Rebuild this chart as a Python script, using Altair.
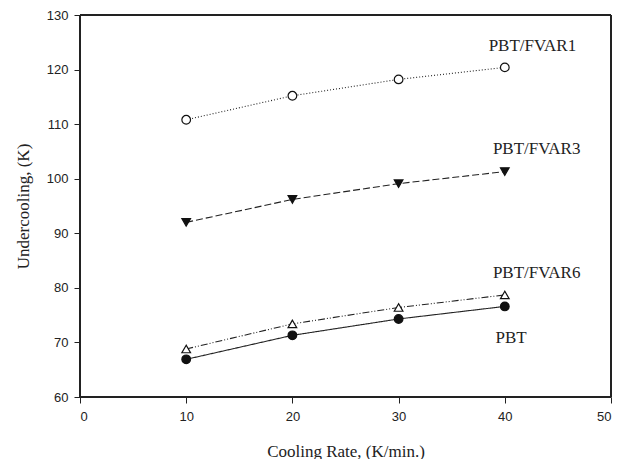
import altair as alt
import pandas as pd

rates = [10, 20, 30, 40]
series_names = ["PBT/FVAR1", "PBT/FVAR3", "PBT/FVAR6", "PBT"]
fvar1 = [110.8, 115.2, 118.2, 120.4]
fvar3 = [92.0, 96.2, 99.1, 101.3]
fvar6 = [68.8, 73.4, 76.4, 78.7]
pbt = [66.9, 71.3, 74.3, 76.6]

label_x = [42.6, 43.0, 43.0, 40.6]
label_y = [124.3, 105.5, 82.8, 70.9]

SERIF = "'Liberation Serif', 'Times New Roman', Times, serif"
SANS = "'Liberation Sans', Arial, Helvetica, sans-serif"

rows = []
for name, vals in zip(series_names, [fvar1, fvar3, fvar6, pbt]):
    for r, v in zip(rates, vals):
        rows.append({"series": name, "rate": r, "value": v})
df = pd.DataFrame(rows)
lab = pd.DataFrame({"series": series_names, "x": label_x, "y": label_y})

W, H = 531, 382
xs = alt.Scale(domain=[0, 50], nice=False)
ys = alt.Scale(domain=[60, 130], nice=False)

xaxis = alt.Axis(values=[0, 10, 20, 30, 40, 50], title="Cooling Rate, (K/min.)",
                 grid=False, tickSize=6, labelFont=SANS, labelFontSize=13,
                 labelColor="#222", titleFont=SERIF, titleFontSize=17,
                 titleFontWeight="normal", titleColor="#222", titlePadding=20,
                 domainColor="#222", tickColor="#222", labelPadding=7)
yaxis = alt.Axis(values=[60, 70, 80, 90, 100, 110, 120, 130], title="Undercooling, (K)",
                 grid=False, tickSize=6, labelFont=SANS, labelFontSize=13,
                 labelColor="#222", titleFont=SERIF, titleFontSize=17,
                 titleFontWeight="normal", titleColor="#222", titlePadding=14,
                 domainColor="#222", tickColor="#222", labelPadding=6)

dash_scale = alt.Scale(domain=series_names,
                       range=[[1, 2], [7, 3], [7, 2, 1, 2, 1, 2], [1, 0]])
shape_scale = alt.Scale(domain=series_names,
                        range=["circle", "triangle-down", "triangle-up", "circle"])
fill_scale = alt.Scale(domain=series_names,
                       range=["white", "#111", "white", "#111"])

base = alt.Chart(df)
frame = base.mark_rect(fill=None, stroke="#222", strokeWidth=1).encode(
    x=alt.value(0), x2=alt.value(W), y=alt.value(0), y2=alt.value(H)
)
lines = base.mark_line(color="#222", strokeWidth=1.1).encode(
    x=alt.X("rate:Q", scale=xs, axis=xaxis),
    y=alt.Y("value:Q", scale=ys, axis=yaxis),
    strokeDash=alt.StrokeDash("series:N", scale=dash_scale, legend=None),
    detail="series:N",
)
points = base.mark_point(size=75, stroke="#111", strokeWidth=1.2, opacity=1, filled=False).encode(
    x=alt.X("rate:Q", scale=xs),
    y=alt.Y("value:Q", scale=ys),
    shape=alt.Shape("series:N", scale=shape_scale, legend=None),
    fill=alt.Fill("series:N", scale=fill_scale, legend=None),
)
texts = alt.Chart(lab).mark_text(font=SERIF, fontSize=17, color="#222").encode(
    x=alt.X("x:Q", scale=xs),
    y=alt.Y("y:Q", scale=ys),
    text="series:N",
)

chart = (lines + points + texts + frame).properties(
    width=W, height=H,
    padding={"left": 6, "top": 1, "right": 0, "bottom": 0},
).configure(background="white").configure_view(stroke=None)

chart.save("out.html", embed_options={"renderer": "svg", "actions": False})
